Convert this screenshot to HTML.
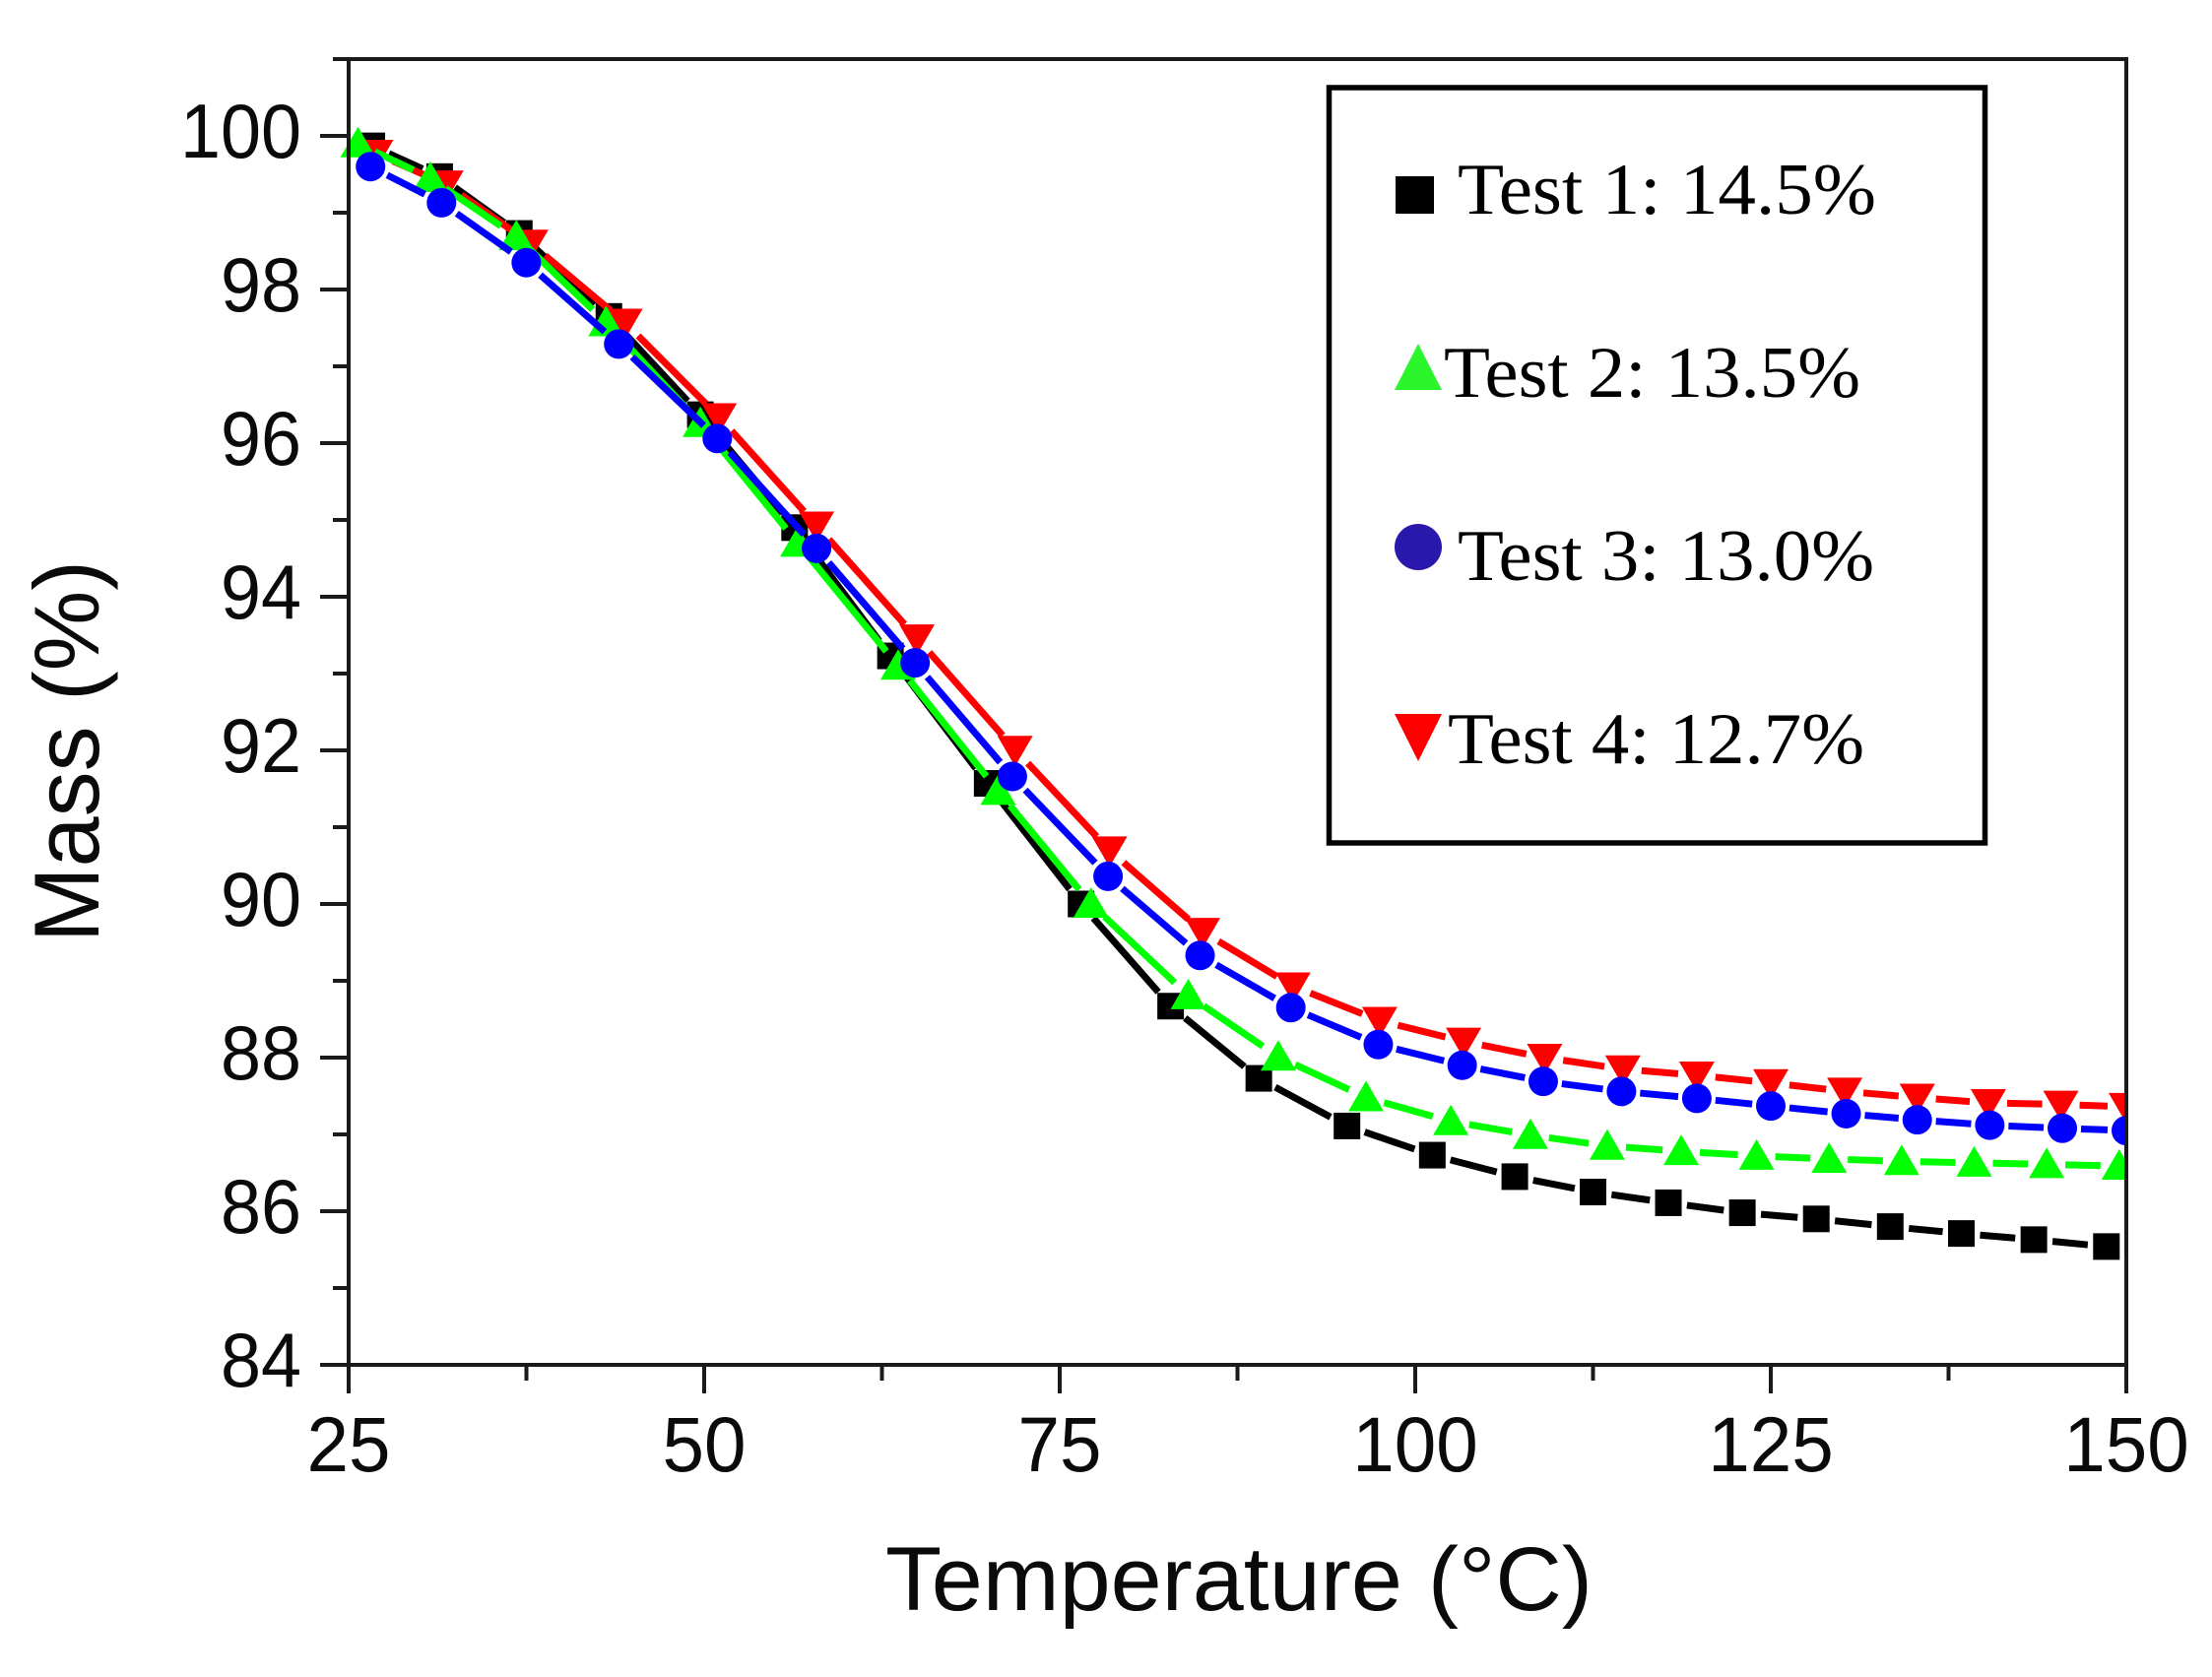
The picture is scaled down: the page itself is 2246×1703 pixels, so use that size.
<!DOCTYPE html>
<html lang="en">
<head>
<meta charset="utf-8">
<title>Mass vs Temperature</title>
<style>
  html, body { margin: 0; padding: 0; background: #fff; }
  svg { display: block; }
  text { font-family: "Liberation Sans", Arial, sans-serif; fill: #0a0a0a; }
  .legend-text { font-family: "Liberation Serif", serif; fill: #000; }
</style>
</head>
<body>
<svg id="chart" xmlns="http://www.w3.org/2000/svg" width="2246" height="1703" viewBox="0 0 2246 1703">
  <defs>
    <clipPath id="plot-clip"><rect x="330" y="60" width="1829" height="1326"/></clipPath>
  </defs>
  <rect width="2246" height="1703" fill="#fff"/>
  <g id="series-layer" clip-path="url(#plot-clip)"></g>
  <g id="axes-layer"></g>
  <text x="899" y="1635" font-size="92" textLength="718" lengthAdjust="spacingAndGlyphs">Temperature (°C)</text>
  <text transform="translate(100,957) rotate(-90)" x="0" y="0" font-size="94" textLength="388" lengthAdjust="spacingAndGlyphs">Mass (%)</text>

  <g>
    <rect x="1349.5" y="89" width="666" height="767" fill="#fff" stroke="#000" stroke-width="5.5"/>
    <rect x="1417" y="179" width="39" height="38" fill="#000"/>
    <polygon points="1416,396 1464,396 1440,349" fill="#2bf52b"/>
    <ellipse cx="1440" cy="555.5" rx="24" ry="23.5" fill="#2a17ac"/>
    <polygon points="1416,725 1464,725 1440,773" fill="#ff0000"/>
    <text class="legend-text" x="1480" y="217" font-size="74" textLength="425" lengthAdjust="spacingAndGlyphs">Test 1: 14.5%</text>
    <text class="legend-text" x="1466" y="403" font-size="74" textLength="423" lengthAdjust="spacingAndGlyphs">Test 2: 13.5%</text>
    <text class="legend-text" x="1480" y="589" font-size="74" textLength="423" lengthAdjust="spacingAndGlyphs">Test 3: 13.0%</text>
    <text class="legend-text" x="1470" y="775" font-size="74" textLength="423" lengthAdjust="spacingAndGlyphs">Test 4: 12.7%</text>
  </g>
</svg>
<script>
// Chart data
const test1Temp = [26.63,31.4,37,43.3,49.73,56.36,63.1,69.9,76.5,82.8,89,95.2,101.2,107,112.5,117.8,123,128.2,133.4,138.4,143.5,148.6];
const test1Mass = [99.87,99.47,98.73,97.65,96.37,94.9,93.23,91.57,90.0,88.67,87.73,87.11,86.73,86.45,86.25,86.11,85.98,85.9,85.8,85.71,85.63,85.54];
const test2Temp = [25.66,30.74,36.79,43.1,49.73,56.58,63.64,70.67,77.2,84.04,90.37,96.54,102.5,108.1,113.5,118.7,124,129.1,134.2,139.3,144.4,149.5];
const test2Mass = [99.9,99.45,98.69,97.57,96.26,94.7,93.1,91.47,90.0,88.81,88.01,87.48,87.17,86.99,86.85,86.78,86.72,86.68,86.65,86.63,86.61,86.59];
const test3Temp = [26.54,31.53,37.49,43.99,50.92,57.9,64.83,71.67,78.4,84.87,91.25,97.4,103.3,109,114.5,119.8,125,130.3,135.3,140.4,145.5,150];
const test3Mass = [99.6,99.13,98.35,97.29,96.06,94.63,93.14,91.66,90.36,89.33,88.65,88.17,87.9,87.69,87.56,87.47,87.37,87.27,87.19,87.12,87.08,87.05];
const test4Temp = [26.9,31.84,37.8,44.43,51.05,57.9,64.96,71.86,78.5,85.04,91.4,97.5,103.4,109.1,114.6,119.8,125,130.2,135.3,140.3,145.4,150];
const test4Mass = [99.77,99.37,98.6,97.57,96.34,94.93,93.46,92.01,90.7,89.64,88.93,88.48,88.21,88.0,87.85,87.77,87.67,87.56,87.48,87.41,87.39,87.36];
const xTickLabels = [25,50,75,100,125,150];
const xMinorTicks = [37.5,62.5,87.5,112.5,137.5];
const yTickLabels = [84,86,88,90,92,94,96,98,100];
const yMinorTicks = [85,87,89,91,93,95,97,99,101];

const NS = 'http://www.w3.org/2000/svg';
const plotLeft = 354, plotRight = 2159, plotTop = 60, plotBottom = 1386;
const xMin = 25, xMax = 150, yMin = 84, yMax = 101;
function xScale(v) { return plotLeft + (v - xMin) / (xMax - xMin) * (plotRight - plotLeft); }
function yScale(v) { return plotBottom - (v - yMin) / (yMax - yMin) * (plotBottom - plotTop); }
function make(tag, attrs) {
  const el = document.createElementNS(NS, tag);
  for (const k in attrs) el.setAttribute(k, attrs[k]);
  return el;
}

const axes = document.getElementById('axes-layer');
const axisColor = '#1a1a1a';
const frame = make('rect', { x: plotLeft, y: plotTop, width: plotRight - plotLeft, height: plotBottom - plotTop, fill: 'none', stroke: axisColor, 'stroke-width': 4 });


axes.appendChild(frame);

xTickLabels.forEach(function (v) {
  const x = xScale(v);
  const tick = make('line', { x1: x, x2: x, y1: plotBottom, y2: plotBottom + 29, stroke: axisColor, 'stroke-width': 4 });
  
  
  axes.appendChild(tick);
  const label = make('text', { x: x, y: 1494, 'font-size': 79, 'text-anchor': 'middle', textLength: String(v).length * 42.5, lengthAdjust: 'spacingAndGlyphs' });
  label.textContent = String(v);
  
  
  axes.appendChild(label);
});
xMinorTicks.forEach(function (v) {
  const x = xScale(v);
  const tick = make('line', { x1: x, x2: x, y1: plotBottom, y2: plotBottom + 16, stroke: axisColor, 'stroke-width': 4 });
  
  
  axes.appendChild(tick);
});
yTickLabels.forEach(function (v) {
  const y = yScale(v);
  const tick = make('line', { x1: plotLeft - 29, x2: plotLeft, y1: y, y2: y, stroke: axisColor, 'stroke-width': 4 });
  
  
  axes.appendChild(tick);
  const label = make('text', { x: 306, y: y + 22, 'font-size': 78, 'text-anchor': 'end', textLength: String(v).length * 41, lengthAdjust: 'spacingAndGlyphs' });
  label.textContent = String(v);
  
  
  axes.appendChild(label);
});
yMinorTicks.forEach(function (v) {
  const y = yScale(v);
  const tick = make('line', { x1: plotLeft - 16, x2: plotLeft, y1: y, y2: y, stroke: axisColor, 'stroke-width': 4 });
  
  
  axes.appendChild(tick);
});

function drawMarker(g, shape, cx, cy, color) {
  let m;
  if (shape === 'square') {
    m = make('rect', { x: cx - 13.5, y: cy - 13.5, width: 27, height: 27, fill: color });
  } else if (shape === 'circle') {
    m = make('ellipse', { cx: cx, cy: cy, rx: 15, ry: 15, fill: color });
  } else if (shape === 'up') {
    m = make('polygon', { points: (cx - 18) + ',' + (cy + 14) + ' ' + (cx + 18) + ',' + (cy + 14) + ' ' + cx + ',' + (cy - 17), fill: color });
  } else {
    m = make('polygon', { points: (cx - 18) + ',' + (cy - 14) + ' ' + (cx + 18) + ',' + (cy - 14) + ' ' + cx + ',' + (cy + 17), fill: color });
  }
  
  
  g.appendChild(m);
}

function drawSeries(name, temps, masses, color, shape) {
  const layer = document.getElementById('series-layer');
  const g = make('g', {});
  
  
  layer.appendChild(g);
  const gap = 19;
  for (let i = 0; i < temps.length - 1; i++) {
    const x1 = xScale(temps[i]), y1 = yScale(masses[i]);
    const x2 = xScale(temps[i + 1]), y2 = yScale(masses[i + 1]);
    const len = Math.hypot(x2 - x1, y2 - y1);
    if (len <= 2 * gap) continue;
    const ux = (x2 - x1) / len, uy = (y2 - y1) / len;
    const seg = make('line', {
      x1: x1 + ux * gap, y1: y1 + uy * gap,
      x2: x2 - ux * gap, y2: y2 - uy * gap,
      stroke: color, 'stroke-width': 7
    });
    
    
    g.appendChild(seg);
  }
  temps.forEach(function (t, i) {
    drawMarker(g, shape, xScale(t), yScale(masses[i]), color);
  });
}

drawSeries('series-test-1', test1Temp, test1Mass, '#000000', 'square');
drawSeries('series-test-4', test4Temp, test4Mass, '#ff0000', 'down');
drawSeries('series-test-2', test2Temp, test2Mass, '#00ff00', 'up');
drawSeries('series-test-3', test3Temp, test3Mass, '#0000ff', 'circle');
</script>
</body>
</html>
